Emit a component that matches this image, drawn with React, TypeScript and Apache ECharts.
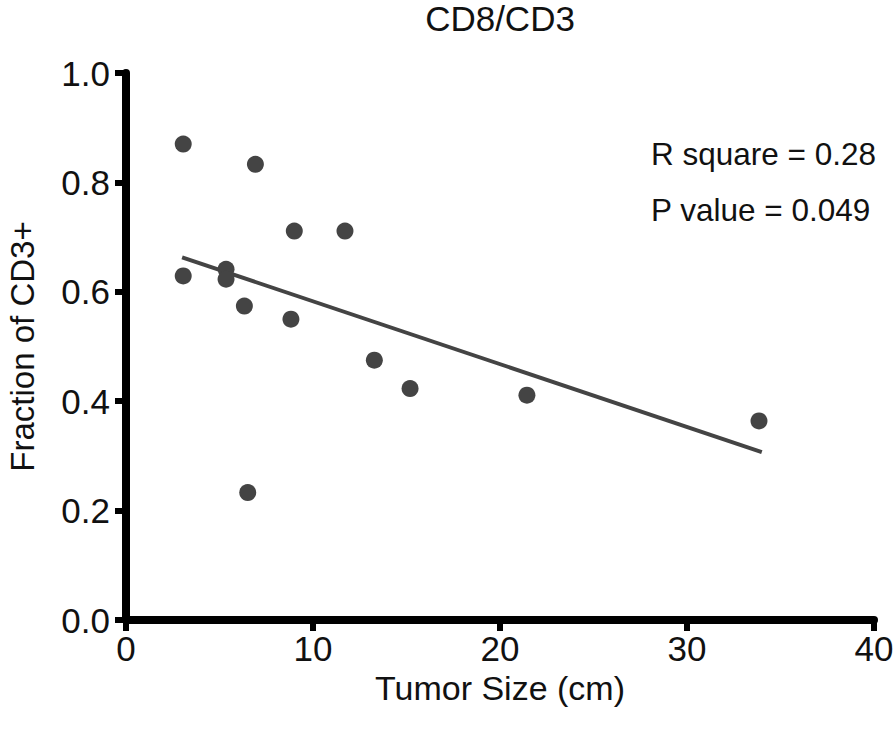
import React, { useEffect, useRef } from "react";
import * as echarts from "echarts";

const tumorSize = [3.06, 6.92, 9.0, 11.71, 5.35, 5.35, 3.06, 6.33, 8.82, 13.28, 15.19, 21.44, 6.51, 33.85];
const cd8Fraction = [0.87, 0.833, 0.711, 0.711, 0.641, 0.623, 0.629, 0.574, 0.55, 0.475, 0.423, 0.411, 0.233, 0.364];
const fitX = [3.0, 34.0];
const fitY = [0.663, 0.307];
const xTicks = [0, 10, 20, 30, 40];
const yTicks = [0.0, 0.2, 0.4, 0.6, 0.8, 1.0];
const titleText = "CD8/CD3";
const statLines = ["R square = 0.28", "P value = 0.049"];

const FONT = "'Liberation Sans', Arial, Helvetica, sans-serif";

export default function App() {
  const ref = useRef<HTMLDivElement>(null);
  useEffect(() => {
    if (!ref.current) return;
    const chart = echarts.init(ref.current, undefined, { renderer: "svg" });
    const axisCommon = {
      axisLine: { show: true, lineStyle: { color: "#000", width: 8 } },
      axisTick: { show: true, length: 11, lineStyle: { color: "#000", width: 6 } },
      splitLine: { show: false },
      nameTextStyle: { fontFamily: FONT, fontSize: 34, color: "#111" },
    };
    chart.setOption({
      animation: false,
      backgroundColor: "#fff",
      grid: { left: 126, right: 20, top: 73, bottom: 111, containLabel: false, outerBoundsMode: "none" },
      xAxis: {
        type: "value",
        min: xTicks[0],
        max: xTicks[xTicks.length - 1],
        interval: 10,
        name: "Tumor Size (cm)",
        nameLocation: "middle",
        nameGap: 42,
        ...axisCommon,
        axisLabel: { fontFamily: FONT, fontSize: 35, color: "#111", margin: 11 },
      },
      yAxis: {
        type: "value",
        min: yTicks[0],
        max: yTicks[yTicks.length - 1],
        interval: 0.2,
        name: "Fraction of CD3+",
        nameLocation: "middle",
        nameGap: 87,
        ...axisCommon,
        nameTextStyle: { fontFamily: FONT, fontSize: 33, color: "#111" },
        axisLabel: {
          fontFamily: FONT,
          fontSize: 35,
          color: "#111",
          margin: 16,
          formatter: (v: number) => v.toFixed(1),
        },
      },
      graphic: [
        {
          type: "text",
          x: 500,
          y: 18,
          style: { text: titleText, fontFamily: FONT, fontSize: 35, fill: "#111", textAlign: "center", textVerticalAlign: "middle" },
        },
        {
          type: "text",
          x: 651,
          y: 154,
          style: { text: statLines[0], fontFamily: FONT, fontSize: 31.5, fill: "#111", textAlign: "left", textVerticalAlign: "middle" },
        },
        {
          type: "text",
          x: 651,
          y: 210,
          style: { text: statLines[1], fontFamily: FONT, fontSize: 31.5, fill: "#111", textAlign: "left", textVerticalAlign: "middle" },
        },
      ],
      series: [
        {
          type: "line",
          data: fitX.map((x, i) => [x, fitY[i]]),
          showSymbol: false,
          symbol: "none",
          lineStyle: { color: "#444", width: 4 },
          z: 2,
        },
        {
          type: "scatter",
          data: tumorSize.map((x, i) => [x, cd8Fraction[i]]),
          symbol: "circle",
          symbolSize: 17,
          itemStyle: { color: "#444", opacity: 1 },
          z: 3,
        },
      ],
    });
    return () => chart.dispose();
  }, []);
  return <div ref={ref} style={{ position: "absolute", left: 0, top: 0, width: 894, height: 731 }} />;
}
